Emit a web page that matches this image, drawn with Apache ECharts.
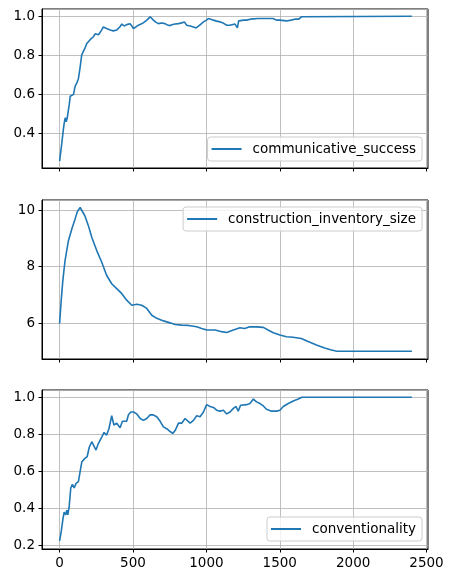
<!DOCTYPE html>
<html>
<head>
<meta charset="utf-8">
<script src="https://cdn.jsdelivr.net/npm/echarts@6/dist/echarts.min.js"></script>
<style>
  html, body { margin: 0; padding: 0; background: #fff; }
  #chart { width: 453px; height: 582px; }
</style>
</head>
<body>
<div id="chart"></div>
<script>
// values
var successX = [0, 15, 27, 33, 38, 45, 52, 60, 66, 72, 84, 95, 105, 118, 128, 140, 150, 162, 172, 185, 196, 208, 220, 230, 242, 253, 265, 276, 287, 298, 310, 320, 345, 366, 390, 410, 424, 440, 457, 470, 480, 492, 503, 520, 537, 555, 570, 594, 617, 628, 639, 655, 673, 695, 718, 735, 752, 770, 787, 810, 832, 850, 866, 890, 912, 930, 946, 963, 980, 1000, 1014, 1030, 1048, 1070, 1093, 1115, 1139, 1160, 1172, 1195, 1205, 1211, 1220, 1229, 1255, 1274, 1300, 1308, 1350, 1388, 1399, 1410, 1454, 1477, 1500, 1545, 1556, 1578, 1601, 1630, 1647, 1658, 2400];
var successY = [0.258, 0.35, 0.43, 0.46, 0.48, 0.46, 0.48, 0.49, 0.55, 0.59, 0.58, 0.60, 0.64, 0.66, 0.68, 0.74, 0.80, 0.82, 0.835, 0.86, 0.85, 0.88, 0.875, 0.895, 0.91, 0.92, 0.905, 0.915, 0.93, 0.945, 0.94, 0.937, 0.93, 0.925, 0.93, 0.945, 0.96, 0.95, 0.957, 0.965, 0.962, 0.95, 0.937, 0.945, 0.954, 0.96, 0.966, 0.98, 0.997, 0.99, 0.98, 0.97, 0.962, 0.965, 0.962, 0.955, 0.952, 0.958, 0.96, 0.962, 0.966, 0.97, 0.954, 0.95, 0.945, 0.94, 0.949, 0.96, 0.971, 0.98, 0.988, 0.985, 0.98, 0.975, 0.971, 0.965, 0.954, 0.954, 0.954, 0.96, 0.96, 0.94, 0.976, 0.976, 0.98, 0.98, 0.985, 0.988, 0.988, 0.988, 0.98, 0.988, 0.988, 0.98, 0.98, 0.976, 0.967, 0.98, 0.985, 0.985, 0.997, 1.0, 1.0];

var inventoryX = [0, 11, 22, 37, 60, 83, 105, 121, 140, 151, 172, 196, 219, 253, 287, 320, 355, 389, 424, 457, 492, 526, 560, 594, 628, 662, 708, 752, 787, 832, 878, 934, 968, 1002, 1059, 1104, 1138, 1184, 1229, 1261, 1295, 1340, 1388, 1420, 1456, 1501, 1546, 1590, 1647, 1693, 1750, 1806, 1852, 1890, 2400];
var inventoryY = [6.0, 6.82, 7.52, 8.22, 8.92, 9.33, 9.68, 9.95, 10.09, 10.07, 9.8, 9.45, 9.04, 8.57, 8.16, 7.70, 7.40, 7.23, 7.05, 6.82, 6.64, 6.68, 6.64, 6.53, 6.29, 6.18, 6.09, 6.02, 5.96, 5.94, 5.93, 5.88, 5.82, 5.77, 5.77, 5.71, 5.68, 5.77, 5.85, 5.82, 5.88, 5.88, 5.86, 5.77, 5.67, 5.59, 5.53, 5.51, 5.47, 5.36, 5.24, 5.13, 5.06, 5.02, 5.02];

var convX = [0, 11, 22, 31, 42, 49, 56, 65, 76, 87, 99, 112, 128, 140, 151, 162, 172, 188, 202, 219, 230, 248, 264, 287, 303, 320, 336, 355, 370, 389, 412, 428, 457, 469, 485, 503, 526, 549, 571, 594, 617, 635, 662, 685, 707, 730, 753, 771, 787, 810, 832, 855, 866, 889, 912, 934, 957, 980, 1002, 1025, 1048, 1070, 1093, 1116, 1138, 1161, 1184, 1202, 1217, 1233, 1274, 1297, 1320, 1342, 1365, 1388, 1410, 1444, 1478, 1501, 1524, 1558, 1592, 1626, 1650, 2400];
var convY = [0.225, 0.275, 0.34, 0.38, 0.365, 0.39, 0.365, 0.41, 0.51, 0.53, 0.51, 0.535, 0.545, 0.60, 0.65, 0.64, 0.67, 0.68, 0.73, 0.76, 0.75, 0.715, 0.75, 0.785, 0.81, 0.795, 0.83, 0.90, 0.85, 0.86, 0.835, 0.87, 0.87, 0.905, 0.92, 0.92, 0.91, 0.885, 0.875, 0.885, 0.905, 0.905, 0.895, 0.87, 0.84, 0.83, 0.815, 0.805, 0.82, 0.86, 0.86, 0.885, 0.895, 0.86, 0.875, 0.90, 0.895, 0.92, 0.96, 0.95, 0.945, 0.93, 0.925, 0.93, 0.91, 0.92, 0.94, 0.95, 0.925, 0.957, 0.96, 0.966, 0.99, 0.975, 0.966, 0.953, 0.935, 0.925, 0.925, 0.93, 0.95, 0.966, 0.98, 0.99, 1.0, 1.0];

var names = ['communicative_success', 'construction_inventory_size', 'conventionality'];
var xTicks = [0, 500, 1000, 1500, 2000, 2500];

function pairs(xs, ys) {
    return xs.map(function (x, i) { return [x, ys[i]]; });
}

var font = 'DejaVu Sans';
var blue = '#1f77b4';
var gridTops = [9, 200, 390];
var yRanges = [[0.223, 1.037], [4.745, 10.355], [0.181, 1.039]];
var ySplits = [5, 3, 5];
var legendTops = [137, 207, 517];

var myChart = echarts.init(document.getElementById('chart'));

var grids = [], xAxes = [], yAxes = [], legends = [], series = [];
var allData = [pairs(successX, successY), pairs(inventoryX, inventoryY), pairs(convX, convY)];

for (var i = 0; i < 3; i++) {
    grids.push({
        left: 42, right: 25, top: gridTops[i], height: 159,
        show: true, borderColor: '#000', borderWidth: 1, backgroundColor: 'transparent'
    });
    xAxes.push({
        type: 'value', gridIndex: i, min: -120, max: 2510,
        axisLine: { show: true, onZero: false, lineStyle: { color: '#000', width: 1 } },
        axisTick: { show: true, length: 3.5, lineStyle: { color: '#000' }, customValues: xTicks },
        axisLabel: {
            show: i === 2, customValues: xTicks, color: '#000', fontFamily: font, fontSize: 13.5, margin: 7,
            formatter: function (v) { return String(v); }
        },
        splitLine: { show: true, lineStyle: { color: '#b0b0b0', width: 0.8 } }
    });
    yAxes.push({
        type: 'value', gridIndex: i, min: yRanges[i][0], max: yRanges[i][1], splitNumber: ySplits[i],
        axisLine: { show: true, onZero: false, lineStyle: { color: '#000', width: 1 } },
        axisTick: { show: true, length: 3.5, lineStyle: { color: '#000' } },
        axisLabel: {
            color: '#000', fontFamily: font, fontSize: 13.5, margin: 7,
            showMinLabel: false, showMaxLabel: false,
            formatter: (function (k) {
                return function (v) { return k === 1 ? String(Math.round(v)) : v.toFixed(1); };
            })(i)
        },
        splitLine: { show: true, lineStyle: { color: '#b0b0b0', width: 0.8 } }
    });
    legends.push({
        data: [names[i]], right: 31, top: legendTops[i], orient: 'vertical',
        icon: 'rect', itemWidth: 30, itemHeight: 2,
        padding: [5, 6, 5, 4],
        backgroundColor: 'rgba(255,255,255,0.8)', borderColor: '#cccccc', borderWidth: 1, borderRadius: 3,
        textStyle: { color: '#000', fontFamily: font, fontSize: 13.5, padding: [0, 0, 0, 6] },
        selectedMode: false
    });
    series.push({
        name: names[i], type: 'line', xAxisIndex: i, yAxisIndex: i,
        data: allData[i], symbol: 'none', animation: false,
        lineStyle: { color: blue, width: 1.6 }, itemStyle: { color: blue }
    });
}

myChart.setOption({
    animation: false,
    grid: grids,
    xAxis: xAxes,
    yAxis: yAxes,
    legend: legends,
    series: series
});
window.addEventListener('resize', myChart.resize);
</script>
</body>
</html>
